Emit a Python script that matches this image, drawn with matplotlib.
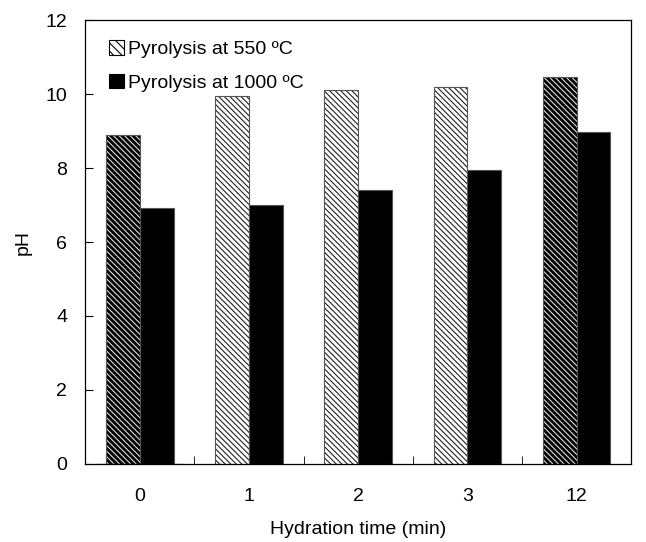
import matplotlib.pyplot as plt
import numpy as np

plt.rcParams['font.family'] = ['Liberation Sans', 'DejaVu Sans']
plt.rcParams['hatch.linewidth'] = 0.8

# data
times = ["0", "1", "2", "3", "12"]
ph_550 = [8.88, 9.95, 10.12, 10.2, 10.45]
ph_1000 = [6.93, 7.0, 7.4, 7.95, 8.97]
dark = [True, False, False, False, True]  # darker hatch on first and last bars

fig, ax = plt.subplots(figsize=(6.46, 5.42), dpi=100)
fig.subplots_adjust(left=0.132, right=0.977, top=0.963, bottom=0.144)

x = np.arange(len(times))
w = 0.31
hatch = '\\\\\\\\\\\\'

for i in range(len(times)):
    if dark[i]:
        ax.bar(x[i] - w / 2, ph_550[i], w, color='black', edgecolor='#dddddd',
               hatch=hatch, linewidth=0)
    else:
        ax.bar(x[i] - w / 2, ph_550[i], w, color='white', edgecolor='#222222',
               hatch=hatch, linewidth=0)
    ax.bar(x[i] - w / 2, ph_550[i], w, fill=False, edgecolor='#555555', linewidth=0.8)

ax.bar(x + w / 2, ph_1000, w, color='black', edgecolor='#555555', linewidth=0.8)

# legend handles
h1 = ax.bar([0], [0], color='white', edgecolor='black', hatch='\\\\\\\\', linewidth=0.8)
h2 = ax.bar([0], [0], color='black', edgecolor='black', linewidth=0.8)
ax.legend([h1, h2], ["Pyrolysis at 550 ºC", "Pyrolysis at 1000 ºC"], loc='upper left',
          frameon=False, fontsize=14, handlelength=0.75, handleheight=0.75,
          handletextpad=0.2, labelspacing=0.8, borderaxespad=0,
          bbox_to_anchor=(0.03, 0.972))

ax.set_xlim(-0.5, len(times) - 0.5)
ax.set_ylim(0, 12)
ax.set_yticks(np.arange(0, 13, 2))
ax.set_xticks(x)
ax.set_xticklabels(times)
ax.set_xticks(np.arange(0.5, len(times) - 1, 1), minor=True)
ax.tick_params(axis='x', which='major', length=0, pad=17, labelsize=14)
ax.tick_params(axis='x', which='minor', direction='in', length=6)
ax.tick_params(axis='y', direction='in', length=6, pad=13, labelsize=14)
ax.set_xlabel("Hydration time (min)", fontsize=14, labelpad=12)
ax.set_ylabel("pH", fontsize=14, labelpad=10)
for s in ax.spines.values():
    s.set_linewidth(0.9)

fig.savefig("out.png")
